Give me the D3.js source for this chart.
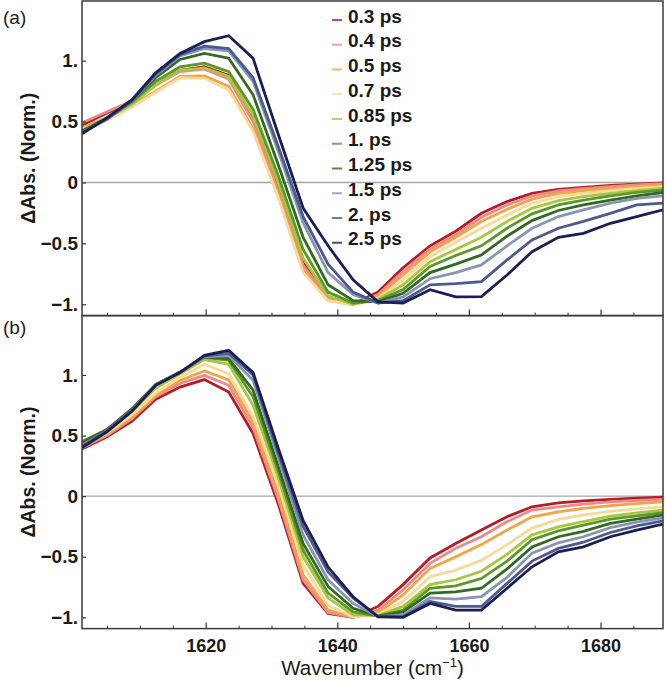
<!DOCTYPE html>
<html><head><meta charset="utf-8">
<script src="https://cdn.jsdelivr.net/npm/d3@7"></script>
<style>body{margin:0;background:#fff} svg{display:block}</style>
</head><body>
<svg id="chart" width="666" height="681"></svg>
<script>
// ---------- data ----------
const wavenumbers = [1601.2,1605.0,1608.8,1612.4,1616.1,1619.8,1623.5,1627.2,1631.0,1634.8,1638.6,1642.4,1646.2,1650.0,1654.1,1658.0,1661.9,1665.8,1669.6,1673.6,1677.4,1681.5,1685.5,1689.5];
const delays = ["0.3 ps","0.4 ps","0.5 ps","0.7 ps","0.85 ps","1. ps","1.25 ps","1.5 ps","2. ps","2.5 ps"];
const seriesColors = ["#b51d26","#e88b8d","#f2a343","#f6d99b","#a8c83b","#5b972d","#336a21","#8a95b6","#4d5a8d","#1b1e54"];
const xMajorTicks = [1620,1640,1660,1680];
const xMinorTicks = [1605,1610,1615,1625,1630,1635,1645,1650,1655,1665,1670,1675,1685];
const yTickValues = [-1,-0.5,0,0.5,1];
const yTickLabels = ["\u22121.","\u22120.5","0","0.5","1."];

// panel (a)
const a03 = [0.47,0.57,0.66,0.80,0.92,0.95,0.88,0.53,-0.05,-0.66,-0.95,-1.0,-0.90,-0.70,-0.52,-0.40,-0.253,-0.157,-0.089,-0.056,-0.04,-0.024,-0.013,-0.003];
const a04 = [0.49,0.58,0.67,0.80,0.91,0.93,0.85,0.50,-0.07,-0.68,-0.95,-1.0,-0.92,-0.73,-0.545,-0.43,-0.286,-0.185,-0.11,-0.07,-0.05,-0.035,-0.02,-0.01];
const a05 = [0.45,0.53,0.63,0.75,0.87,0.875,0.79,0.44,-0.10,-0.72,-0.97,-1.0,-0.93,-0.76,-0.57,-0.45,-0.32,-0.22,-0.137,-0.089,-0.067,-0.049,-0.035,-0.02];
const a07 = [0.44,0.51,0.62,0.74,0.86,0.855,0.76,0.42,-0.12,-0.74,-0.97,-1.0,-0.95,-0.80,-0.61,-0.49,-0.376,-0.267,-0.171,-0.116,-0.089,-0.067,-0.049,-0.035];
const a085 = [0.43,0.53,0.64,0.80,0.92,0.94,0.87,0.55,0.0,-0.62,-0.93,-1.0,-0.96,-0.84,-0.65,-0.55,-0.45,-0.32,-0.212,-0.149,-0.116,-0.089,-0.067,-0.049];
const a10 = [0.42,0.53,0.66,0.83,0.95,0.98,0.91,0.60,0.06,-0.55,-0.90,-0.99,-0.97,-0.88,-0.69,-0.60,-0.52,-0.376,-0.258,-0.184,-0.144,-0.11,-0.082,-0.063];
const a125 = [0.42,0.53,0.67,0.86,1.01,1.06,1.02,0.72,0.15,-0.45,-0.84,-0.97,-0.98,-0.91,-0.74,-0.67,-0.595,-0.44,-0.313,-0.23,-0.184,-0.144,-0.11,-0.082];
const a15 = [0.41,0.52,0.67,0.88,1.04,1.10,1.08,0.83,0.26,-0.33,-0.74,-0.92,-0.99,-0.94,-0.79,-0.74,-0.677,-0.52,-0.376,-0.28,-0.225,-0.17,-0.13,-0.11];
const a20 = [0.41,0.52,0.67,0.89,1.05,1.12,1.10,0.86,0.30,-0.28,-0.67,-0.90,-0.99,-0.97,-0.84,-0.83,-0.814,-0.636,-0.472,-0.376,-0.32,-0.253,-0.184,-0.17];
const a25 = [0.40,0.53,0.68,0.90,1.06,1.156,1.205,1.02,0.40,-0.21,-0.52,-0.80,-0.98,-0.99,-0.88,-0.94,-0.937,-0.76,-0.568,-0.45,-0.417,-0.335,-0.28,-0.225];

// panel (b)
const b03 = [0.39,0.49,0.62,0.80,0.90,0.962,0.86,0.517,-0.06,-0.72,-0.967,-1.0,-0.91,-0.73,-0.51,-0.39,-0.28,-0.17,-0.088,-0.055,-0.039,-0.027,-0.017,-0.008];
const b04 = [0.40,0.50,0.64,0.82,0.93,0.997,0.915,0.566,-0.02,-0.69,-0.96,-1.0,-0.94,-0.775,-0.555,-0.43,-0.335,-0.21,-0.115,-0.088,-0.065,-0.048,-0.036,-0.027];
const b05 = [0.41,0.51,0.65,0.83,0.955,1.033,0.96,0.61,0.02,-0.65,-0.94,-1.0,-0.96,-0.815,-0.596,-0.50,-0.40,-0.28,-0.17,-0.129,-0.10,-0.078,-0.062,-0.047];
const b07 = [0.42,0.52,0.67,0.85,0.98,1.088,1.01,0.654,0.10,-0.57,-0.90,-0.995,-0.975,-0.87,-0.665,-0.61,-0.53,-0.40,-0.264,-0.192,-0.155,-0.125,-0.105,-0.088];
const b085 = [0.44,0.54,0.70,0.89,1.01,1.127,1.088,0.75,0.16,-0.50,-0.84,-0.98,-0.985,-0.91,-0.73,-0.69,-0.62,-0.48,-0.319,-0.253,-0.21,-0.165,-0.138,-0.115];
const b10 = [0.45,0.55,0.72,0.92,1.025,1.145,1.12,0.82,0.21,-0.445,-0.80,-0.955,-0.99,-0.94,-0.76,-0.74,-0.68,-0.536,-0.36,-0.286,-0.24,-0.19,-0.162,-0.137];
const b125 = [0.44,0.55,0.72,0.92,1.025,1.15,1.135,0.874,0.25,-0.39,-0.745,-0.926,-0.99,-0.955,-0.80,-0.79,-0.76,-0.60,-0.42,-0.335,-0.29,-0.225,-0.19,-0.156];
const b15 = [0.42,0.54,0.71,0.92,1.02,1.15,1.16,0.956,0.32,-0.32,-0.69,-0.885,-0.995,-0.98,-0.84,-0.85,-0.83,-0.67,-0.47,-0.385,-0.335,-0.26,-0.215,-0.178];
const b20 = [0.41,0.54,0.71,0.92,1.02,1.155,1.18,1.0,0.36,-0.25,-0.625,-0.84,-0.995,-0.995,-0.87,-0.91,-0.91,-0.72,-0.536,-0.431,-0.38,-0.30,-0.245,-0.203];
const b25 = [0.40,0.53,0.70,0.915,1.02,1.162,1.204,1.02,0.40,-0.20,-0.585,-0.83,-0.995,-1.0,-0.885,-0.94,-0.94,-0.76,-0.583,-0.459,-0.418,-0.335,-0.28,-0.23];

const panelASeries = [a03,a04,a05,a07,a085,a10,a125,a15,a20,a25];
const panelBSeries = [b03,b04,b05,b07,b085,b10,b125,b15,b20,b25];

// ---------- layout ----------
const svg = d3.select("#chart");
const L = 82, R = 663;
const panels = [
  {name:"(a)", top:1, bottom:315.6, series:panelASeries, labels:false, tagY:17, legend:true},
  {name:"(b)", top:315.6, bottom:628.6, series:panelBSeries, labels:true, tagY:327, legend:false}
];
const x = d3.scaleLinear().domain([1601.2, 1689.5]).range([L, R]);
const FONT = "'Liberation Sans', Arial, sans-serif";

panels.forEach(p => {
  const y = d3.scaleLinear().domain([-1.093, 1.49]).range([p.bottom, p.top]);
  const g = svg.append("g");
  const clipId = "clip" + p.name.replace(/\W/g,"");
  svg.append("clipPath").attr("id", clipId).append("rect")
    .attr("x", L).attr("y", p.top).attr("width", R - L).attr("height", p.bottom - p.top);

  // zero line
  g.append("line").attr("x1", L).attr("x2", R).attr("y1", y(0)).attr("y2", y(0))
    .attr("stroke", "#a6a6a6").attr("stroke-width", 1.4);

  // curves
  const line = d3.line().x((d, i) => x(wavenumbers[i])).y(d => y(d));
  g.append("g").attr("clip-path", `url(#${clipId})`)
    .selectAll("path").data(p.series).join("path")
    .attr("d", d => line(d)).attr("fill", "none")
    .attr("stroke", (d, i) => seriesColors[i]).attr("stroke-width", 2.8)
    .attr("stroke-linejoin", "miter");

  // x minor ticks
  g.append("g").attr("transform", `translate(0,${p.bottom})`)
    .call(d3.axisBottom(x).tickValues(xMinorTicks).tickSize(-3).tickFormat(""))
    .call(s => s.select(".domain").remove())
    .call(s => s.selectAll("line").attr("stroke", "#333").attr("stroke-width", 1));
  // x major ticks
  const xa = g.append("g").attr("transform", `translate(0,${p.bottom})`)
    .call(d3.axisBottom(x).tickValues(xMajorTicks).tickSize(-6).tickPadding(11)
      .tickFormat(p.labels ? d3.format("d") : ""))
    .call(s => s.select(".domain").remove());
  xa.selectAll("line").attr("stroke", "#333").attr("stroke-width", 1.2);
  xa.selectAll("text").attr("font-family", FONT).attr("font-size", 18)
    .attr("font-weight", "bold").attr("fill", "#1a1a1a");

  // y ticks
  const ya = g.append("g").attr("transform", `translate(${L},0)`)
    .call(d3.axisLeft(y).tickValues(yTickValues).tickSize(-4).tickPadding(4)
      .tickFormat((d, i) => yTickLabels[i]))
    .call(s => s.select(".domain").remove());
  ya.selectAll("line").attr("stroke", "#333").attr("stroke-width", 1.2);
  ya.selectAll("text").attr("font-family", FONT).attr("font-size", 19)
    .attr("font-weight", "bold").attr("fill", "#1a1a1a");

  // frame
  g.append("rect").attr("x", L).attr("y", p.top).attr("width", R - L).attr("height", p.bottom - p.top)
    .attr("fill", "none").attr("stroke", "#3a3a3a").attr("stroke-width", 1.5);

  // y label
  g.append("text")
    .attr("transform", `translate(28,${(p.top + p.bottom) / 2}) rotate(-90)`)
    .attr("text-anchor", "middle").attr("dominant-baseline", "central")
    .attr("font-family", FONT).attr("font-size", 19.5).attr("font-weight", "bold")
    .attr("fill", "#1a1a1a").text("\u0394Abs. (Norm.)");

  // panel tag
  g.append("text").attr("x", 3).attr("y", p.tagY).attr("dominant-baseline", "central")
    .attr("font-family", FONT).attr("font-size", 19).attr("fill", "#1a1a1a").text(p.name);

  // legend
  if (p.legend) {
    const lg = g.append("g");
    const items = lg.selectAll("g").data(delays).join("g")
      .attr("transform", (d, i) => `translate(0,${16 + i * 24.75})`);
    items.append("line").attr("x1", 332).attr("x2", 342).attr("y1", 4).attr("y2", 4)
      .attr("stroke", (d, i) => seriesColors[i]).attr("stroke-width", 2).attr("opacity", 0.8);
    items.append("text").attr("x", 348).attr("y", 0).attr("dominant-baseline", "central")
      .attr("font-family", FONT).attr("font-size", 19).attr("font-weight", "bold")
      .attr("fill", "#1a1a1a").text(d => d);
  }
});

// x axis title
const xt = svg.append("text").attr("x", (L + R) / 2).attr("y", 675).attr("text-anchor", "middle")
  .attr("font-family", FONT).attr("font-size", 20.5).attr("fill", "#1a1a1a");
xt.append("tspan").text("Wavenumber (cm");
xt.append("tspan").attr("dy", -8).attr("font-size", 13).text("\u22121");
xt.append("tspan").attr("dy", 8).text(")");
</script>
</body></html>
